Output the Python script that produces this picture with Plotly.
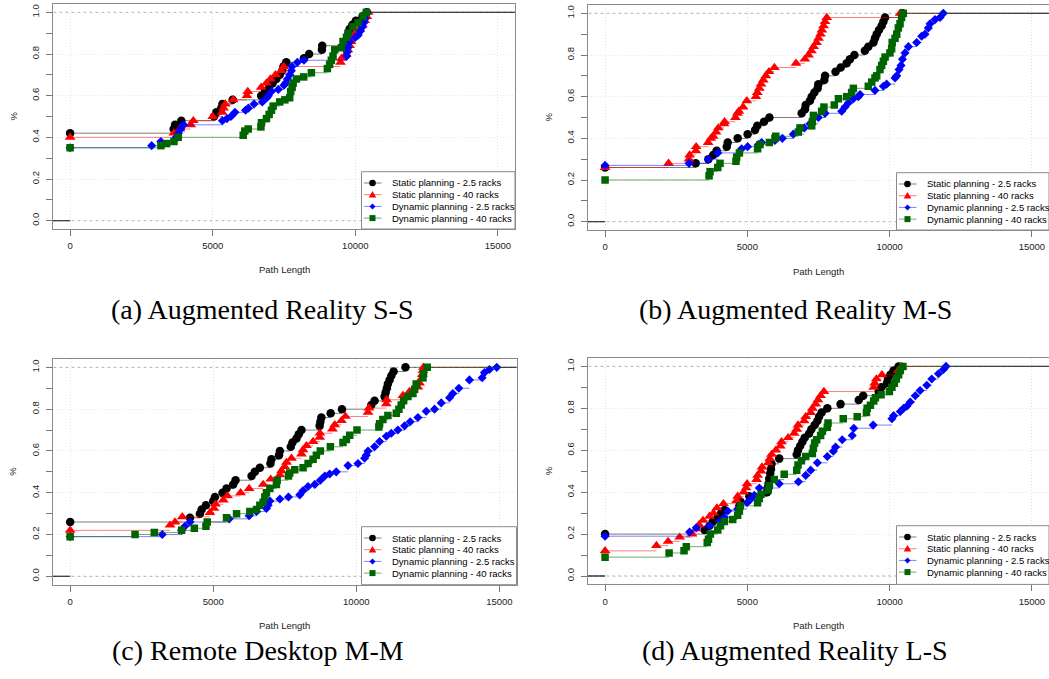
import plotly.graph_objects as go

W, H = 1049, 679

# ---------------- data ----------------
# (a) Augmented Reality S-S
A_S25_X = [0, 3630, 3680, 3900, 5050, 5130, 5300, 5340, 5700, 6700, 6830, 6980, 7100, 7230, 7350, 7440, 7480, 7580, 8200, 8380, 8830, 8840, 9680, 9720, 9760, 9800, 9900, 10020, 10250, 10400]
A_S25_Y = [0.42, 0.44, 0.46, 0.48, 0.50, 0.52, 0.54, 0.56, 0.58, 0.60, 0.62, 0.64, 0.66, 0.68, 0.70, 0.72, 0.74, 0.76, 0.78, 0.80, 0.82, 0.84, 0.86, 0.88, 0.90, 0.92, 0.94, 0.96, 0.98, 1.00]
A_S40_X = [0, 3640, 3850, 4230, 4320, 5000, 5330, 5380, 5440, 5720, 6200, 6230, 6700, 6880, 7020, 7200, 7400, 7490, 9480, 9520, 9680, 9740, 9800, 9850, 9900, 10000, 10150, 10250, 10330, 10400, 10450]
A_S40_Y = [0.40, 0.42, 0.44, 0.46, 0.48, 0.50, 0.52, 0.54, 0.56, 0.58, 0.60, 0.62, 0.64, 0.66, 0.68, 0.70, 0.72, 0.74, 0.76, 0.78, 0.80, 0.82, 0.84, 0.86, 0.88, 0.90, 0.92, 0.94, 0.96, 0.98, 1.00]
A_D25_X = [0, 2860, 3180, 3720, 3800, 3880, 3980, 5340, 5500, 5640, 5780, 6150, 6250, 6450, 6740, 6900, 6950, 7060, 7300, 7500, 7550, 7620, 7700, 7760, 7780, 7970, 8200, 9700, 9720, 9740, 9760, 9800, 10000, 10100, 10180, 10250, 10300, 10350, 10420]
A_D25_Y = [0.35, 0.36, 0.38, 0.40, 0.42, 0.44, 0.46, 0.48, 0.49, 0.50, 0.52, 0.53, 0.54, 0.56, 0.57, 0.59, 0.60, 0.62, 0.63, 0.65, 0.66, 0.68, 0.70, 0.72, 0.74, 0.76, 0.77, 0.79, 0.81, 0.83, 0.85, 0.86, 0.88, 0.89, 0.91, 0.93, 0.95, 0.97, 1.00]
A_D40_X = [0, 3185, 3385, 3640, 3790, 6070, 6125, 6245, 6690, 6710, 6885, 6980, 7060, 7120, 7350, 7530, 7700, 7735, 7785, 7820, 7935, 8190, 8460, 9020, 9100, 9160, 9220, 9280, 9510, 9570, 9690, 9745, 9920, 10095, 10270, 10390]
A_D40_Y = [0.35, 0.36, 0.37, 0.38, 0.40, 0.41, 0.43, 0.44, 0.45, 0.47, 0.49, 0.51, 0.53, 0.55, 0.57, 0.58, 0.59, 0.62, 0.64, 0.66, 0.68, 0.69, 0.71, 0.73, 0.75, 0.77, 0.79, 0.82, 0.83, 0.86, 0.88, 0.90, 0.93, 0.95, 0.98, 1.00]

# (b) Augmented Reality M-S
B_S25_X = [0, 3185, 3630, 3800, 3920, 4275, 4310, 4660, 5010, 5270, 5350, 5585, 5775, 6910, 7025, 7050, 7200, 7260, 7355, 7470, 7495, 7705, 7730, 8100, 8280, 8490, 8605, 8760, 9130, 9250, 9430, 9485, 9545, 9625, 9720, 9780, 9840, 10450]
B_S25_Y = [0.26, 0.28, 0.30, 0.32, 0.34, 0.36, 0.38, 0.40, 0.42, 0.44, 0.46, 0.48, 0.50, 0.52, 0.54, 0.56, 0.58, 0.60, 0.62, 0.64, 0.66, 0.68, 0.70, 0.72, 0.74, 0.76, 0.78, 0.80, 0.82, 0.84, 0.86, 0.88, 0.90, 0.92, 0.94, 0.96, 0.98, 1.00]
B_S40_X = [0, 2230, 2950, 2970, 3190, 3200, 3620, 3720, 3800, 3900, 3980, 4180, 4200, 4580, 4650, 4700, 4850, 4980, 5300, 5350, 5420, 5480, 5560, 5650, 5760, 5950, 6710, 7020, 7150, 7250, 7330, 7430, 7500, 7570, 7620, 7680, 7730, 7790, 10370]
B_S40_Y = [0.26, 0.28, 0.30, 0.32, 0.34, 0.36, 0.38, 0.40, 0.41, 0.43, 0.45, 0.47, 0.48, 0.50, 0.52, 0.53, 0.55, 0.58, 0.60, 0.62, 0.64, 0.66, 0.68, 0.70, 0.72, 0.74, 0.76, 0.78, 0.80, 0.82, 0.84, 0.86, 0.88, 0.90, 0.92, 0.94, 0.96, 0.98, 1.00]
B_D25_X = [0, 2950, 3630, 3960, 4800, 5010, 5390, 5500, 5970, 6230, 6615, 7000, 7200, 7495, 7730, 8315, 8430, 8550, 8725, 8900, 8960, 9485, 9780, 9895, 10190, 10250, 10330, 10400, 10450, 10540, 10660, 10950, 11125, 11240, 11360, 11420, 11595, 11770, 11885]
B_D25_Y = [0.27, 0.28, 0.30, 0.33, 0.35, 0.36, 0.37, 0.38, 0.39, 0.40, 0.42, 0.45, 0.47, 0.50, 0.52, 0.53, 0.55, 0.57, 0.59, 0.60, 0.61, 0.63, 0.65, 0.66, 0.69, 0.70, 0.73, 0.75, 0.78, 0.81, 0.84, 0.86, 0.89, 0.90, 0.93, 0.95, 0.97, 0.98, 1.00]
B_D40_X = [0, 3655, 3690, 3960, 4040, 4600, 4625, 4720, 5360, 5445, 5775, 5970, 6000, 6790, 6850, 7260, 7285, 7320, 7610, 7690, 8055, 8200, 8490, 8665, 8725, 9250, 9370, 9485, 9545, 9660, 9720, 9780, 9840, 10010, 10070, 10090, 10190, 10250, 10305, 10365, 10420, 10480]
B_D40_Y = [0.20, 0.22, 0.24, 0.26, 0.28, 0.29, 0.31, 0.33, 0.35, 0.37, 0.38, 0.40, 0.41, 0.43, 0.45, 0.46, 0.48, 0.51, 0.53, 0.55, 0.56, 0.59, 0.60, 0.62, 0.64, 0.65, 0.67, 0.69, 0.70, 0.73, 0.75, 0.77, 0.79, 0.81, 0.83, 0.86, 0.88, 0.90, 0.93, 0.95, 0.98, 1.00]

# (c) Remote Desktop M-M
C_S25_X = [0, 4187, 4535, 4595, 4745, 5000, 5060, 5325, 5465, 5700, 5780, 6340, 6455, 6630, 7000, 7035, 7300, 7330, 7710, 7770, 7910, 7990, 8085, 8720, 8745, 8780, 9105, 9500, 10525, 10640, 10990, 11025, 11070, 11105, 11165, 11225, 11305, 11720]
C_S25_Y = [0.26, 0.28, 0.30, 0.32, 0.34, 0.36, 0.38, 0.40, 0.42, 0.44, 0.46, 0.48, 0.50, 0.52, 0.54, 0.56, 0.58, 0.60, 0.62, 0.64, 0.66, 0.68, 0.70, 0.72, 0.74, 0.76, 0.78, 0.80, 0.82, 0.84, 0.86, 0.88, 0.90, 0.92, 0.94, 0.96, 0.98, 1.00]
C_S40_X = [0, 3490, 3665, 3920, 4885, 5025, 5080, 5350, 5500, 5955, 6255, 6745, 7010, 7330, 7385, 7500, 7560, 7735, 8085, 8140, 8260, 8490, 8720, 8730, 9165, 9245, 9480, 9620, 10410, 10440, 11050, 11060, 11630, 11860, 12155, 12210, 12270, 12305, 12330, 12350]
C_S40_Y = [0.22, 0.245, 0.26, 0.285, 0.305, 0.325, 0.345, 0.365, 0.385, 0.40, 0.42, 0.44, 0.465, 0.485, 0.505, 0.525, 0.545, 0.565, 0.585, 0.605, 0.625, 0.645, 0.665, 0.685, 0.705, 0.725, 0.745, 0.765, 0.785, 0.805, 0.825, 0.845, 0.865, 0.885, 0.905, 0.925, 0.945, 0.965, 0.985, 1.00]
C_D25_X = [0, 3220, 3895, 4010, 4187, 5560, 6255, 6515, 6860, 6920, 6980, 7330, 7630, 8025, 8140, 8315, 8550, 8745, 8900, 9070, 9300, 9710, 10060, 10290, 10350, 10410, 10640, 10815, 11050, 11225, 11455, 11690, 11885, 12155, 12445, 12735, 12970, 13260, 13375, 13585, 13955, 14400, 14480, 14655, 14910]
C_D25_Y = [0.19, 0.20, 0.22, 0.24, 0.26, 0.275, 0.29, 0.31, 0.325, 0.34, 0.36, 0.37, 0.38, 0.39, 0.41, 0.43, 0.44, 0.46, 0.48, 0.49, 0.50, 0.53, 0.54, 0.565, 0.58, 0.60, 0.62, 0.645, 0.67, 0.685, 0.70, 0.72, 0.74, 0.76, 0.79, 0.80, 0.83, 0.855, 0.875, 0.90, 0.94, 0.95, 0.975, 0.99, 1.00]
C_D40_X = [0, 2268, 2940, 3895, 4340, 4745, 4790, 5465, 5815, 6280, 6515, 6630, 6745, 6805, 6860, 6980, 7210, 7235, 7630, 7675, 7850, 8140, 8315, 8490, 8605, 8745, 9095, 9535, 9655, 9770, 10025, 10790, 10815, 10930, 11105, 11400, 11490, 11570, 11655, 11805, 11980, 12040, 12095, 12330, 12350, 12480]
C_D40_Y = [0.19, 0.20, 0.21, 0.22, 0.23, 0.24, 0.26, 0.28, 0.30, 0.31, 0.32, 0.34, 0.355, 0.38, 0.40, 0.42, 0.44, 0.46, 0.48, 0.495, 0.51, 0.52, 0.54, 0.56, 0.58, 0.60, 0.62, 0.64, 0.655, 0.675, 0.70, 0.715, 0.73, 0.75, 0.77, 0.78, 0.80, 0.82, 0.84, 0.86, 0.875, 0.895, 0.92, 0.95, 0.97, 1.00]

# (d) Augmented Reality L-S
D_S25_X = [0, 3500, 3670, 3790, 3960, 4080, 4195, 4720, 4755, 5070, 5690, 5710, 5745, 5770, 5805, 5830, 5850, 6120, 6735, 6780, 6855, 6935, 7015, 7170, 7250, 7365, 7460, 7520, 7610, 7810, 8275, 8915, 9070, 9615, 9710, 9905, 9940, 10025, 10140, 10315]
D_S25_Y = [0.20, 0.22, 0.24, 0.26, 0.28, 0.30, 0.315, 0.335, 0.355, 0.38, 0.40, 0.42, 0.44, 0.465, 0.49, 0.51, 0.535, 0.56, 0.58, 0.60, 0.62, 0.64, 0.66, 0.68, 0.70, 0.72, 0.74, 0.76, 0.78, 0.80, 0.82, 0.84, 0.86, 0.88, 0.90, 0.92, 0.94, 0.96, 0.98, 1.00]
D_S40_X = [0, 1805, 2215, 2620, 3055, 3205, 3300, 3440, 3670, 3810, 3930, 4160, 4625, 4660, 4870, 4955, 4990, 5325, 5360, 5480, 5515, 5735, 5790, 5850, 6000, 6155, 6200, 6435, 6645, 6735, 6780, 6995, 7050, 7225, 7285, 7400, 7480, 7575, 7690, 9440, 9475, 9535, 9730, 10300, 10430]
D_S40_Y = [0.12, 0.145, 0.165, 0.185, 0.20, 0.225, 0.245, 0.265, 0.285, 0.30, 0.325, 0.345, 0.36, 0.38, 0.40, 0.42, 0.44, 0.46, 0.48, 0.50, 0.52, 0.54, 0.56, 0.58, 0.60, 0.62, 0.64, 0.66, 0.68, 0.70, 0.72, 0.74, 0.76, 0.78, 0.80, 0.82, 0.84, 0.86, 0.88, 0.90, 0.92, 0.94, 0.96, 0.98, 1.00]
D_D25_X = [0, 2970, 3205, 3670, 4020, 4195, 4310, 4660, 4990, 5105, 5245, 5420, 6120, 6795, 7050, 7225, 7460, 7810, 8020, 8100, 8335, 8685, 8740, 9420, 10080, 10140, 10375, 10490, 10605, 10725, 10900, 11070, 11305, 11480, 11715, 11890, 11980]
D_D25_Y = [0.19, 0.21, 0.23, 0.24, 0.26, 0.28, 0.31, 0.32, 0.35, 0.365, 0.385, 0.42, 0.44, 0.45, 0.48, 0.505, 0.54, 0.57, 0.595, 0.615, 0.65, 0.67, 0.705, 0.72, 0.75, 0.765, 0.785, 0.80, 0.81, 0.83, 0.86, 0.885, 0.91, 0.94, 0.965, 0.985, 1.00]
D_D40_X = [0, 2250, 2775, 2855, 3590, 3635, 3700, 3960, 4055, 4195, 4485, 4660, 4720, 4755, 5360, 5420, 5480, 5735, 5770, 5945, 6295, 6735, 6780, 6900, 7050, 7285, 7320, 7365, 7435, 7575, 7635, 7810, 7835, 8370, 8860, 9185, 9210, 9325, 9440, 9500, 9700, 9990, 10080, 10165, 10235, 10315, 10375, 10465]
D_D40_Y = [0.09, 0.11, 0.12, 0.14, 0.16, 0.175, 0.20, 0.22, 0.24, 0.26, 0.27, 0.29, 0.31, 0.335, 0.35, 0.37, 0.39, 0.41, 0.43, 0.46, 0.485, 0.505, 0.53, 0.55, 0.57, 0.585, 0.61, 0.635, 0.65, 0.67, 0.69, 0.71, 0.73, 0.75, 0.76, 0.78, 0.80, 0.815, 0.835, 0.85, 0.865, 0.88, 0.90, 0.92, 0.94, 0.96, 0.98, 1.00]

SERIES_NAMES = ["Static planning - 2.5 racks", "Static planning - 40 racks",
                "Dynamic planning - 2.5 racks", "Dynamic planning - 40 racks"]
CAPTIONS = ["(a) Augmented Reality S-S", "(b) Augmented Reality M-S",
            "(c) Remote Desktop M-M", "(d) Augmented Reality L-S"]
X_TICKS = [0, 5000, 10000, 15000]
X_TICK_TEXT = ["0", "5000", "10000", "15000"]
X_TITLE = "Path Length"
Y_TITLE = "%"

PANEL_DATA = [
    [(A_S25_X, A_S25_Y), (A_S40_X, A_S40_Y), (A_D25_X, A_D25_Y), (A_D40_X, A_D40_Y)],
    [(B_S25_X, B_S25_Y), (B_S40_X, B_S40_Y), (B_D25_X, B_D25_Y), (B_D40_X, B_D40_Y)],
    [(C_S25_X, C_S25_Y), (C_S40_X, C_S40_Y), (C_D25_X, C_D25_Y), (C_D40_X, C_D40_Y)],
    [(D_S25_X, D_S25_Y), (D_S40_X, D_S40_Y), (D_D25_X, D_D25_Y), (D_D40_X, D_D40_Y)],
]

# ---------------- styling / layout ----------------
STYLE = [
    dict(color="#000000", line="rgba(0,0,0,0.5)", symbol="circle", size=8.5),
    dict(color="#ff0000", line="rgba(255,0,0,0.5)", symbol="triangle-up", size=9.5),
    dict(color="#0000ff", line="rgba(0,0,255,0.5)", symbol="diamond", size=7),
    dict(color="#006400", line="rgba(0,100,0,0.55)", symbol="square", size=7.5),
]
# plot boxes in pixels: (left, top, right, bottom)
BOXES = [(53, 4, 515, 229), (588, 5, 1049, 230), (53, 359, 516.5, 584.7), (588, 358, 1049, 584.4)]
CAP_POS = [(262, 310), (795, 310), (258, 650), (795, 650)]
XRANGE = [-600, 15600]
YRANGE = [-0.04, 1.04]

SANS = "Liberation Sans, Arial, sans-serif"
SERIF = "Liberation Serif, Times New Roman, serif"
TXT = "#222222"
GRID = "#e3e3e3"


def px(x):
    return x / W


def py(y):
    return 1 - y / H


def steps(xs, ys, lo=-3000, hi=25000):
    sx, sy = [lo, xs[0], None], [0, 0, None]
    for i in range(len(xs)):
        xe = xs[i + 1] if i + 1 < len(xs) else hi
        sx += [xs[i], xe, None]
        sy += [ys[i], ys[i], None]
    return sx, sy


fig = go.Figure()
shapes, annotations = [], []
layout = {}

for p, (data, box) in enumerate(zip(PANEL_DATA, BOXES)):
    sfx = "" if p == 0 else str(p + 1)
    xa, ya = "x" + sfx, "y" + sfx
    l, t, r, b = box
    layout["xaxis" + sfx] = dict(
        domain=[px(l), px(r)], range=XRANGE, anchor=ya, tickmode="array",
        tickvals=X_TICKS, ticktext=X_TICK_TEXT,
        ticks="outside", ticklen=6, tickcolor="#777", tickwidth=1, ticklabelstandoff=2,
        showline=True, mirror=True, linecolor="#8a8a8a", linewidth=1,
        showgrid=True, gridcolor=GRID, griddash="1px,2px", gridwidth=1,
        zeroline=False, tickfont=dict(family=SANS, size=9.5, color=TXT),
    )
    layout["yaxis" + sfx] = dict(
        domain=[py(b), py(t)], range=YRANGE, anchor=xa, tick0=0, dtick=0.2,
        tickformat=".1f", tickangle=-90, ticks="outside", ticklen=6,
        tickcolor="#777", tickwidth=1, ticklabelstandoff=3,
        minor=dict(dtick=0.1, tick0=0, ticks="outside", ticklen=6,
                   tickcolor="#777", showgrid=False),
        showline=True, mirror=True, linecolor="#8a8a8a", linewidth=1,
        showgrid=True, gridcolor=GRID, griddash="1px,2px", gridwidth=1,
        zeroline=False, tickfont=dict(family=SANS, size=9.5, color=TXT),
    )
    # dashed reference lines at 0 and 1
    for yv in (0, 1):
        shapes.append(dict(type="line", xref=xa + " domain", x0=0, x1=1,
                           yref=ya, y0=yv, y1=yv, layer="below",
                           line=dict(color="#b3b3b3", width=1, dash="3px,3px")))
    # series
    for (xs, ys), st, name in zip(data, STYLE, SERIES_NAMES):
        sx, sy = steps(xs, ys)
        fig.add_trace(go.Scatter(x=sx, y=sy, mode="lines", xaxis=xa, yaxis=ya,
                                 line=dict(color=st["line"], width=1),
                                 showlegend=False, hoverinfo="skip", name=name))
        fig.add_trace(go.Scatter(x=xs, y=ys, mode="markers", xaxis=xa, yaxis=ya,
                                 marker=dict(symbol=st["symbol"], size=st["size"],
                                             color=st["color"], line=dict(width=0)),
                                 showlegend=False, name=name))
    # axis titles
    annotations.append(dict(text=X_TITLE, xref="paper", yref="paper",
                            x=px((l + r) / 2), y=py(b + 41), showarrow=False,
                            xanchor="center", yanchor="middle",
                            font=dict(family=SANS, size=9.5, color=TXT)))
    annotations.append(dict(text=Y_TITLE, xref="paper", yref="paper",
                            x=px(l - 40), y=py((t + b) / 2), showarrow=False,
                            textangle=-90, xanchor="center", yanchor="middle",
                            font=dict(family=SANS, size=9.5, color=TXT)))
    # caption
    cx, cy = CAP_POS[p]
    annotations.append(dict(text=CAPTIONS[p], xref="paper", yref="paper",
                            x=px(cx), y=py(cy), showarrow=False,
                            xanchor="center", yanchor="middle",
                            font=dict(family=SERIF, size=28, color="#000")))
    # legend (bottom-right, R style)
    lg_l, lg_t = l + 308.5, t + 167.7
    shapes.append(dict(type="rect", xref="paper", yref="paper",
                       x0=px(lg_l), x1=px(r), y0=py(b), y1=py(lg_t),
                       fillcolor="white", line=dict(color="#8a8a8a", width=1),
                       layer="above"))
    for k, (st, name) in enumerate(zip(STYLE, SERIES_NAMES)):
        ry = lg_t + 11.3 + k * 11.7
        shapes.append(dict(type="line", xref="paper", yref="paper",
                           x0=px(lg_l + 2.5), x1=px(lg_l + 20), y0=py(ry), y1=py(ry),
                           line=dict(color=st["line"], width=1), layer="above"))
        mx, my = px(lg_l + 11), py(ry)
        common = dict(xref="paper", yref="paper", xsizemode="pixel", ysizemode="pixel",
                      xanchor=mx, yanchor=my, fillcolor=st["color"],
                      line=dict(width=0), layer="above")
        if st["symbol"] == "circle":
            shapes.append(dict(type="circle", x0=-3.3, x1=3.3, y0=-3.3, y1=3.3, **common))
        elif st["symbol"] == "square":
            shapes.append(dict(type="rect", x0=-3, x1=3, y0=-3, y1=3, **common))
        elif st["symbol"] == "triangle-up":
            shapes.append(dict(type="path", path="M -3.8,-2.8 L 3.8,-2.8 L 0,3.8 Z", **common))
        else:
            shapes.append(dict(type="path", path="M 0,-3 L 3,0 L 0,3 L -3,0 Z", **common))
        annotations.append(dict(text=name, xref="paper", yref="paper",
                                x=px(lg_l + 28), y=my, showarrow=False,
                                xanchor="left", yanchor="middle",
                                font=dict(family=SANS, size=9.5, color="#000")))

fig.update_layout(
    width=W, height=H, margin=dict(l=0, r=0, t=0, b=0),
    paper_bgcolor="white", plot_bgcolor="white", showlegend=False,
    shapes=shapes, annotations=annotations, **layout,
)

fig.write_html("out.html")
